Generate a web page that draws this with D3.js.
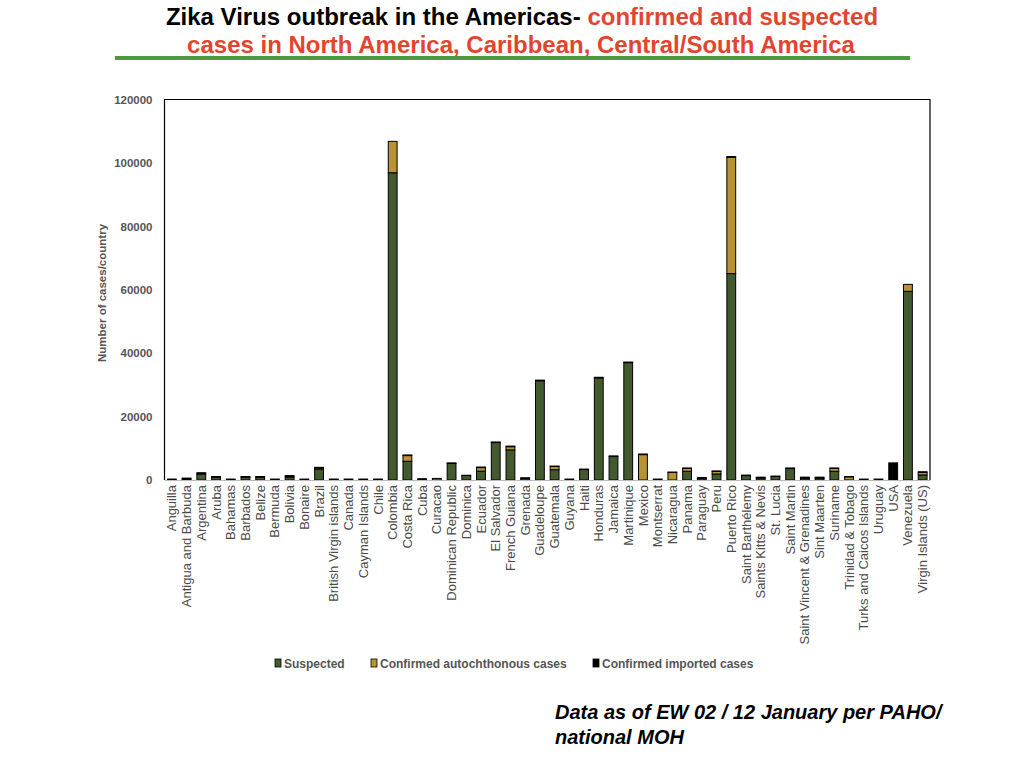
<!DOCTYPE html>
<html>
<head>
<meta charset="utf-8">
<style>
  body { margin: 0; background: #fff; }
  svg { display: block; font-family: "Liberation Sans", Arial, sans-serif; }
</style>
<script src="https://cdn.jsdelivr.net/npm/d3@7"></script>
</head>
<body>
<svg id="chart" width="1024" height="768"></svg>
<script>
  const countries = ['Anguilla', 'Antigua and Barbuda', 'Argentina', 'Aruba', 'Bahamas', 'Barbados', 'Belize',
    'Bermuda', 'Bolivia', 'Bonaire', 'Brazil', 'British Virgin islands', 'Canada', 'Cayman Islands', 'Chile',
    'Colombia', 'Costa Rica', 'Cuba', 'Curacao', 'Dominican Republic', 'Dominica', 'Ecuador', 'El Salvador',
    'French Guiana', 'Grenada', 'Guadeloupe', 'Guatemala', 'Guyana', 'Haiti', 'Honduras', 'Jamaica',
    'Martinique', 'Mexico', 'Montserrat', 'Nicaragua', 'Panama', 'Paraguay', 'Peru', 'Puerto Rico',
    'Saint Barthélemy', 'Saints Kitts & Nevis', 'St. Lucia', 'Saint Martin', 'Saint Vincent & Grenadines',
    'Sint Maarten', 'Suriname', 'Trinidad & Tobago', 'Turks and Caicos Islands', 'Uruguay', 'USA',
    'Venezuela', 'Virgin Islands (US)']

  const suspected = [0, 300, 1900, 900, 0, 900, 900,
    0, 900, 0, 3400, 0, 0, 0, 0,
    96900, 5900, 0, 0, 5200, 1400, 2800, 11800,
    9500, 500, 31300, 3250, 0, 3300, 32200, 7400,
    37000, 0, 0, 0, 2750, 500, 1900, 65100,
    1400, 600, 1100, 3600, 600,
    600, 2750, 0, 0, 0, 0,
    59500, 1600]

  const confirmed = [0, 0, 0, 0, 0, 0, 0,
    0, 0, 0, 400, 0, 0, 0, 0,
    9900, 1800, 0, 500, 0, 0, 1100, 0,
    1000, 0, 0, 1000, 0, 0, 0, 0,
    0, 8000, 0, 2400, 900, 0, 800, 36700,
    0, 0, 0, 0, 0,
    0, 900, 1000, 0, 0, 0,
    2200, 800]

  const imported = [300, 300, 400, 200, 300, 200, 200,
    300, 500, 300, 200, 300, 300, 300, 300,
    0, 200, 400, 0, 200, 100, 200, 200,
    200, 200, 200, 150, 300, 150, 200, 200,
    200, 200, 300, 100, 150, 300, 150, 200,
    150, 300, 150, 200, 300,
    300, 150, 100, 300, 300, 5400,
    0, 200]

  const yTicks = [0, 20000, 40000, 60000, 80000, 100000, 120000]
  const seriesNames = ['Suspected', 'Confirmed autochthonous  cases', 'Confirmed imported cases']
  const seriesColors = ['#435a2e', '#b99332', '#000000']

  const table = countries.map((c, i) => ({ country: c, s0: suspected[i], s1: confirmed[i], s2: imported[i] }))

  const svg = d3.select('#chart')
  const margin = { left: 164.5, right: 930, top: 99.5, bottom: 480 }

  // title
  const title = svg.append('text')
    .attr('x', 522).attr('y', 25)
    .attr('text-anchor', 'middle')
    .style('font-size', '24px').style('font-weight', 'bold')
  title.append('tspan').attr('fill', '#000').text('Zika Virus outbreak in the Americas- ')
  title.append('tspan').attr('fill', '#e2452e').text('confirmed and suspected')
  svg.append('text')
    .attr('x', 521).attr('y', 53)
    .attr('text-anchor', 'middle')
    .attr('fill', '#e2452e')
    .style('font-size', '24px').style('font-weight', 'bold')
    .text('cases in North America, Caribbean, Central/South America')
  svg.append('rect')
    .attr('x', 115).attr('y', 56).attr('width', 795).attr('height', 4)
    .attr('fill', '#4b9a3b')

  const x = d3.scaleBand()
    .domain(countries)
    .range([margin.left, margin.right])
    .paddingInner(0.4).paddingOuter(0.2)

  const y = d3.scaleLinear()
    .domain([0, 120000])
    .range([margin.bottom, margin.top])

  // frame
  svg.append('path')
    .attr('d', `M${margin.left},${margin.bottom}V${margin.top}H${margin.right}V${margin.bottom}`)
    .attr('fill', 'none').attr('stroke', '#000').attr('stroke-width', 1.2)

  // y axis
  const yAxis = svg.append('g')
    .attr('transform', `translate(${margin.left},0)`)
    .call(d3.axisLeft(y).tickValues(yTicks).tickSize(0).tickPadding(12).tickFormat(d3.format('d')))
  yAxis.select('.domain').remove()
  yAxis.selectAll('text')
    .attr('fill', '#555').style('font-size', '11.5px').style('font-weight', 'bold')
    .style('font-family', '"Liberation Sans", Arial, sans-serif')

  svg.append('text')
    .attr('transform', 'translate(106,293) rotate(-90)')
    .attr('text-anchor', 'middle')
    .attr('fill', '#555')
    .style('font-size', '11.5px').style('font-weight', 'bold')
    .text('Number of cases/country')

  // stacked bars
  const stack = d3.stack().keys(['s0', 's1', 's2'])
  const layers = stack(table)

  svg.append('g').selectAll('g')
    .data(layers)
    .join('g')
      .attr('fill', (d, i) => seriesColors[i])
    .selectAll('rect')
    .data(d => d.filter(p => p[1] - p[0] > 0))
    .join('rect')
      .attr('x', d => x(d.data.country))
      .attr('width', x.bandwidth())
      .attr('y', d => y(d[1]))
      .attr('height', d => y(d[0]) - y(d[1]))
      .attr('stroke', '#000')
      .attr('stroke-width', 1)

  // x axis
  const xAxis = svg.append('g')
    .attr('transform', `translate(0,${margin.bottom})`)
    .call(d3.axisBottom(x).tickSize(0).tickPadding(0))
  xAxis.select('.domain').attr('stroke', '#bbb').attr('stroke-width', 1)
  xAxis.selectAll('text')
    .attr('transform', 'rotate(-90)')
    .attr('text-anchor', 'end')
    .attr('x', -5).attr('y', 0).attr('dy', '0.35em')
    .attr('fill', '#4a4a4a')
    .style('font-size', '13px')
    .style('font-family', '"Liberation Sans", Arial, sans-serif')

  // legend
  const legendX = [275, 371, 593]
  const legend = svg.append('g').selectAll('g')
    .data(seriesNames)
    .join('g')
      .attr('transform', (d, i) => `translate(${legendX[i]},659)`)
  legend.append('rect')
    .attr('width', 6).attr('height', 8)
    .attr('fill', (d, i) => seriesColors[i])
    .attr('stroke', '#000').attr('stroke-width', 0.8)
  legend.append('text')
    .attr('x', 9).attr('y', 8.5)
    .attr('fill', '#555')
    .style('font-size', '12px').style('font-weight', 'bold')
    .text(d => d)

  // footnote
  const note = svg.append('text')
    .attr('fill', '#000')
    .style('font-size', '20px').style('font-weight', 'bold').style('font-style', 'italic')
  note.append('tspan').attr('x', 555).attr('y', 719).text('Data as of EW 02 / 12 January per PAHO/')
  note.append('tspan').attr('x', 555).attr('y', 744).text('national MOH')
</script>
</body>
</html>
